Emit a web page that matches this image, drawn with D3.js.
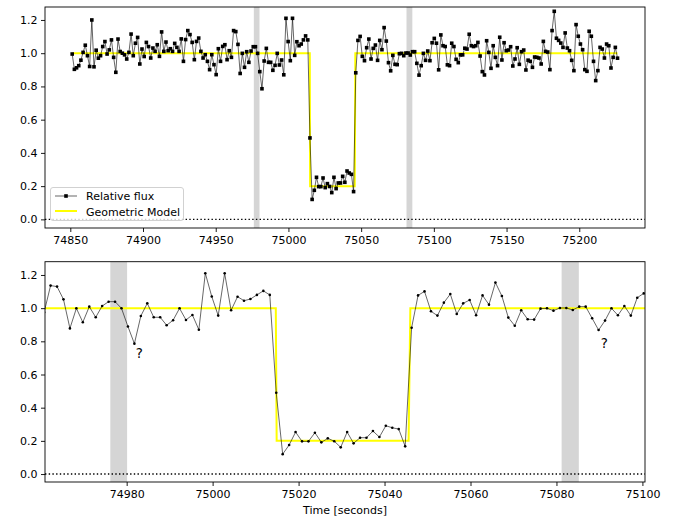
<!DOCTYPE html>
<html><head><meta charset="utf-8">
<script src="https://cdn.jsdelivr.net/npm/d3@7"></script>
<style>
body{margin:0;background:#fff}
svg{display:block}
text{font-family:"DejaVu Sans",sans-serif}
</style>
</head><body>
<svg id="chart" width="678" height="517"></svg>
<script>
// ---- data ----
const startTime = 74851.3;   // first sample time [s]
const cadence = 1.5;         // sample spacing [s]
const flux = [
  // 0-34
  0.995,0.903,0.912,0.925,0.958,1.005,1.048,0.985,0.920,1.200,
  0.918,1.018,0.970,0.985,1.040,1.070,0.995,1.020,1.080,0.975,
  0.885,1.085,1.010,1.000,0.990,0.965,1.005,1.115,0.985,1.060,
  1.095,0.935,1.025,0.980,1.065,
  // 35-72
  1.040,0.971,1.031,1.011,1.051,0.981,1.128,1.011,1.067,1.015,
  1.027,1.011,1.059,1.035,1.011,1.086,0.951,1.082,1.136,1.112,
  1.065,0.961,1.071,1.091,1.011,0.971,0.991,0.951,0.901,0.991,
  0.931,0.871,1.027,0.951,1.041,1.051,0.961,1.015,
  // 73-108
  0.975,1.136,1.130,1.053,0.878,0.999,0.915,1.009,0.945,1.013,
  1.039,1.039,0.999,0.889,0.786,0.953,1.029,0.945,0.945,0.897,
  0.927,0.999,0.929,0.959,0.870,1.210,1.070,0.955,1.210,0.987,
  1.069,1.045,1.055,1.080,1.104,1.080,
  // 109-129
  0.490,0.120,0.175,0.253,0.197,0.197,0.249,0.191,0.215,0.198,
  0.161,0.253,0.185,0.219,0.219,0.259,0.223,0.291,0.279,0.271,
  0.167,
  // 130-166
  0.882,1.077,1.101,0.981,0.955,1.033,1.085,0.965,1.029,1.049,
  0.957,1.077,1.021,1.154,1.073,0.943,0.894,0.987,0.933,0.931,
  0.997,0.999,0.985,1.001,1.001,0.989,1.009,1.009,0.939,0.868,
  0.925,0.999,0.957,1.013,0.955,1.063,1.089,
  // 167-250
  1.060,0.900,1.110,1.045,1.040,0.930,0.925,1.060,1.040,0.963,
  0.943,0.990,0.990,1.030,1.025,1.114,1.045,1.040,1.045,1.065,
  0.983,0.889,0.869,1.075,1.005,0.909,1.045,0.975,0.925,1.096,
  0.959,1.063,1.015,1.019,1.039,0.923,0.965,1.033,0.933,1.009,
  1.019,0.899,0.958,0.951,0.915,0.977,0.975,0.971,0.935,1.071,
  1.011,1.007,0.901,1.136,1.252,1.090,1.077,1.061,1.035,1.122,
  1.031,1.015,0.957,0.895,1.172,1.102,1.055,1.021,0.901,0.891,
  1.132,1.102,0.951,0.835,0.895,1.035,1.025,0.971,1.055,1.045,
  0.911,0.975,1.035,0.970
];
const modelTimes = [74851.3, 75014.7, 75014.9, 75045.6, 75046.0, 75226.3];
const modelFlux  = [1.0, 1.0, 0.2, 0.2, 1.0, 1.0];
const gapBands = [[74976.2, 74980.1], [75081.2, 75085.2]];
const topXTicks = [74850, 74900, 74950, 75000, 75050, 75100, 75150, 75200];
const bottomXTicks = [74980, 75000, 75020, 75040, 75060, 75080, 75100];
const yTicks = [0.0, 0.2, 0.4, 0.6, 0.8, 1.0, 1.2];
const questionTimes = [74982.1, 75090.3];
const questionFlux = [0.70, 0.757];
const legendLabels = ["Relative flux", "Geometric Model"];
const xAxisLabel = "Time [seconds]";

const times = flux.map((_, i) => startTime + cadence * i);
const data = times.map((t, i) => ({t, f: flux[i]}));
const model = modelTimes.map((t, i) => ({t, f: modelFlux[i]}));

const svg = d3.select("#chart");

const panels = [
  {id: "top", left: 45, right: 645, top: 7, bottom: 228,
   xDomain: [74832.6, 75245.2], yDomain: [-0.052, 1.278],
   xTicks: topXTicks, marker: "square", legend: true},
  {id: "bot", left: 45, right: 645, top: 261.7, bottom: 482,
   xDomain: [74961.0, 75100.6], yDomain: [-0.048, 1.28],
   xTicks: bottomXTicks, marker: "dot", legend: false, notes: true}
];

panels.forEach(p => {
  const x = d3.scaleLinear().domain(p.xDomain).range([p.left, p.right]);
  const y = d3.scaleLinear().domain(p.yDomain).range([p.bottom, p.top]);
  const clipId = "clip-" + p.id;
  svg.append("clipPath").attr("id", clipId).append("rect")
    .attr("x", p.left).attr("y", p.top)
    .attr("width", p.right - p.left).attr("height", p.bottom - p.top);
  const g = svg.append("g").attr("clip-path", `url(#${clipId})`);

  // gap bands
  g.selectAll("rect.band").data(gapBands).join("rect")
    .attr("class", "band")
    .attr("x", d => x(d[0])).attr("width", d => x(d[1]) - x(d[0]))
    .attr("y", p.top).attr("height", p.bottom - p.top)
    .attr("fill", "#d5d5d5");

  // zero line
  g.append("line")
    .attr("x1", p.left).attr("x2", p.right)
    .attr("y1", y(0)).attr("y2", y(0))
    .attr("stroke", "#000").attr("stroke-width", 1.4)
    .attr("stroke-dasharray", "1.4,2.3");

  // model
  g.append("path").datum(model)
    .attr("d", d3.line().x(d => x(d.t)).y(d => y(d.f)))
    .attr("fill", "none").attr("stroke", "#ffff00").attr("stroke-width", 2);

  // data line
  g.append("path").datum(data)
    .attr("d", d3.line().x(d => x(d.t)).y(d => y(d.f)))
    .attr("fill", "none").attr("stroke", "#000").attr("stroke-width", 0.6);

  if (p.marker === "square") {
    const s = 3.6;
    g.selectAll("rect.m").data(data).join("rect").attr("class", "m")
      .attr("x", d => x(d.t) - s / 2).attr("y", d => y(d.f) - s / 2)
      .attr("width", s).attr("height", s).attr("fill", "#000");
  } else {
    g.selectAll("circle.m").data(data).join("circle").attr("class", "m")
      .attr("cx", d => x(d.t)).attr("cy", d => y(d.f))
      .attr("r", 1.3).attr("fill", "#000");
  }

  // axes
  const xa = svg.append("g").attr("transform", `translate(0,${p.bottom})`)
    .call(d3.axisBottom(x).tickValues(p.xTicks).tickFormat(d3.format("d"))
      .tickSize(4).tickPadding(4.5));
  const ya = svg.append("g").attr("transform", `translate(${p.left},0)`)
    .call(d3.axisLeft(y).tickValues(yTicks).tickFormat(d3.format(".1f"))
      .tickSize(4).tickPadding(3.5));
  [xa, ya].forEach(a => {
    a.select(".domain").remove();
    a.selectAll("text").attr("font-size", 11).attr("fill", "#000")
      .attr("font-family", "DejaVu Sans, sans-serif");
    a.selectAll("line").attr("stroke", "#000").attr("stroke-width", 0.9);
  });

  // frame
  svg.append("rect")
    .attr("x", p.left).attr("y", p.top)
    .attr("width", p.right - p.left).attr("height", p.bottom - p.top)
    .attr("fill", "none").attr("stroke", "#000").attr("stroke-width", 0.9);

  if (p.notes) {
    svg.selectAll("text.q").data(questionTimes).join("text").attr("class", "q")
      .attr("x", (d) => x(d)).attr("y", (d, i) => y(questionFlux[i]))
      .attr("font-size", 13.5).attr("fill", "#000").text("?");
  }

  if (p.legend) {
    const lg = svg.append("g");
    lg.append("rect").attr("x", 50.5).attr("y", 187.5)
      .attr("width", 133).attr("height", 33).attr("rx", 2.5)
      .attr("fill", "#fff").attr("fill-opacity", 0.8)
      .attr("stroke", "#cccccc").attr("stroke-width", 0.9);
    lg.append("line").attr("x1", 55).attr("x2", 77).attr("y1", 196).attr("y2", 196)
      .attr("stroke", "#000").attr("stroke-width", 0.6);
    lg.append("rect").attr("x", 66 - 1.8).attr("y", 196 - 1.8)
      .attr("width", 3.6).attr("height", 3.6).attr("fill", "#000");
    lg.append("line").attr("x1", 55).attr("x2", 77).attr("y1", 211).attr("y2", 211)
      .attr("stroke", "#ffff00").attr("stroke-width", 2);
    lg.selectAll("text").data(legendLabels).join("text")
      .attr("x", 86).attr("y", (d, i) => 200 + i * 15.5)
      .attr("font-size", 11).attr("fill", "#000").text(d => d);
  }
});

svg.append("text").attr("x", 345).attr("y", 513.5)
  .attr("text-anchor", "middle").attr("font-size", 11).attr("fill", "#000")
  .text(xAxisLabel);
</script>
</body></html>
